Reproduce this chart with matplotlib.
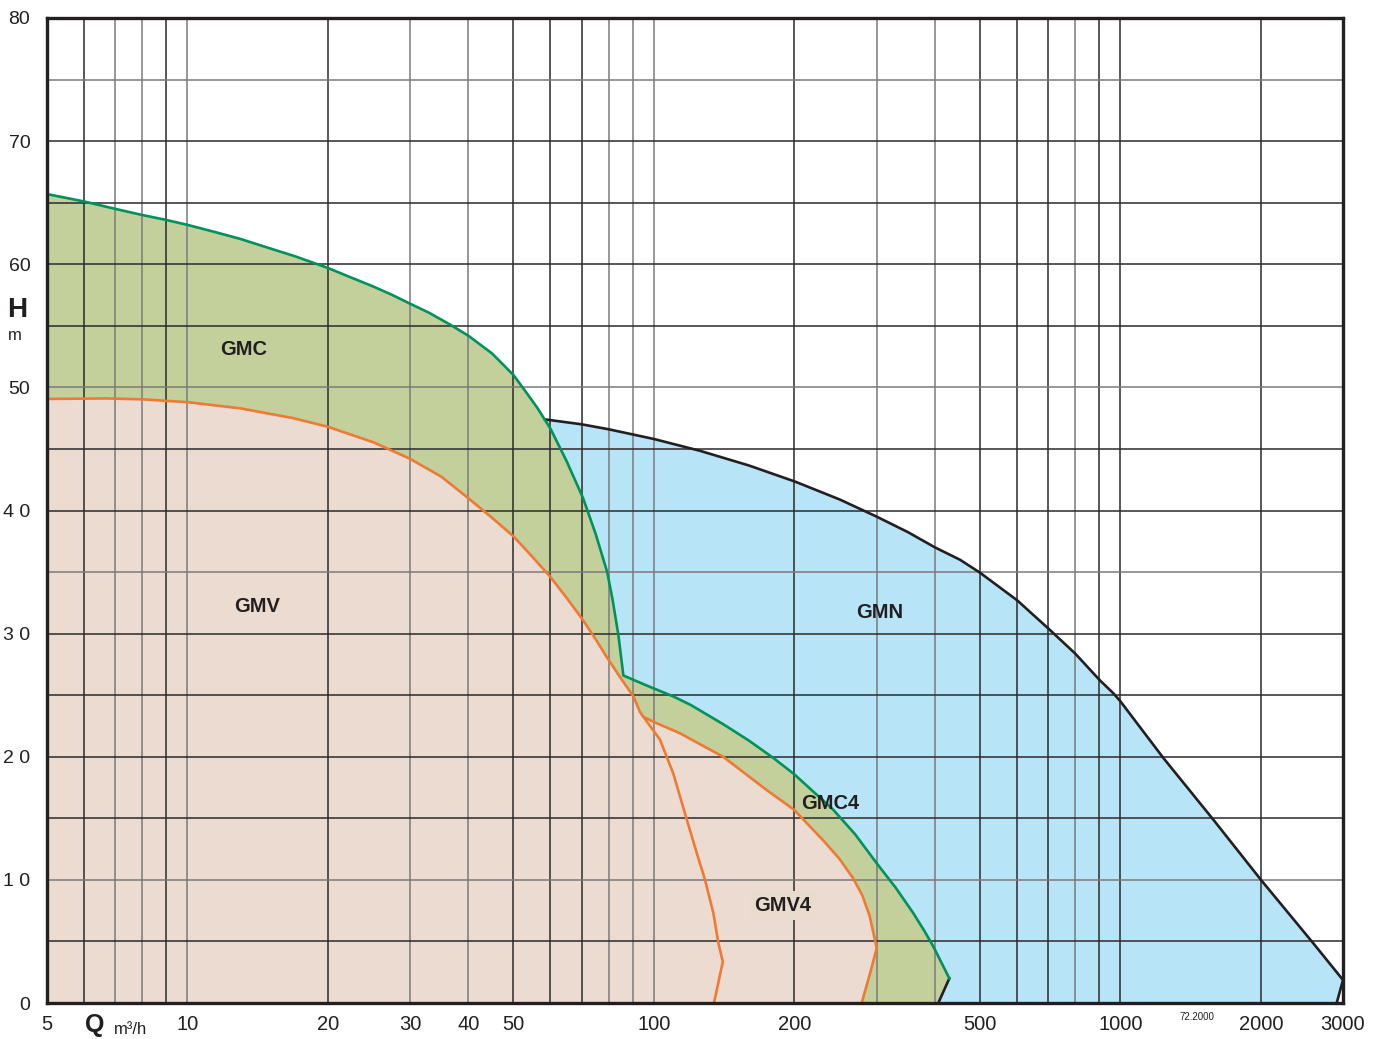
import matplotlib
matplotlib.use('Agg')
import matplotlib.pyplot as plt

# pump family envelopes (Q in m3/h, H in m)
gmc_q = [5, 6, 7, 8, 9, 10, 11.5, 13, 15, 17, 20, 22.5, 25, 27.5, 30, 33, 36.55, 40, 45, 50, 53, 56.1, 60, 65, 70.5, 75, 79.4, 81.5, 83.9, 86.0]
gmc_h = [65.7, 65.1, 64.5, 64.0, 63.6, 63.2, 62.6, 62.05, 61.3, 60.65, 59.7, 58.9, 58.2, 57.5, 56.8, 56.05, 55.1, 54.2, 52.75, 51.0, 49.7, 48.4, 46.65, 44.0, 41.0, 38.1, 35.0, 32.8, 29.9, 26.6]

gmc4_q = [86.0, 96.3, 110, 120, 140.7, 160, 180.3, 199.6, 242.3, 270, 300.3, 330, 359.7, 380, 397, 429.8]
gmc4_h = [26.6, 25.8, 24.9, 24.2, 22.65, 21.3, 19.9, 18.6, 15.7, 13.7, 11.35, 9.35, 7.3, 5.85, 4.6, 2.0]
gmc4_end_q = [429.8, 407]
gmc4_end_h = [2.0, 0]

gmv_q = [5, 6.71, 8, 10, 12.97, 16.86, 20, 25, 30, 35, 39.7, 45, 50, 55, 60, 65, 70.0, 75, 79.2, 85, 90.4, 93.3, 94.9]
gmv_h = [49.06, 49.1, 49.03, 48.8, 48.3, 47.5, 46.8, 45.55, 44.2, 42.75, 41.1, 39.4, 37.9, 36.2, 34.6, 32.9, 31.25, 29.55, 28.1, 26.35, 24.9, 23.65, 23.25]

gmv4_q = [94.9, 99.6, 113.8, 140.7, 174.4, 199.6, 230.7, 250, 267.6, 280, 290, 297.8, 300.3, 290.6, 278.8]
gmv4_h = [23.25, 22.85, 21.9, 20.0, 17.3, 15.7, 13.2, 11.7, 10.1, 8.7, 7.07, 5.1, 4.45, 2.4, 0]

gmv_tail_q = [94.9, 103, 110, 117.6, 123.5, 128.7, 134.1, 137.5, 140.5, 134.5]
gmv_tail_h = [23.25, 21.4, 18.65, 14.9, 12.2, 10.0, 7.3, 4.85, 3.35, 0]

gmn_q = [58.4, 70, 79.9, 100.2, 125.5, 160, 200.6, 250, 300.3, 350, 400.5, 453, 500, 601, 706, 799, 904, 966, 1000, 1236, 1581, 2001, 2591, 3000, 2908]
gmn_h = [47.4, 47.0, 46.6, 45.8, 44.85, 43.65, 42.35, 40.9, 39.5, 38.25, 37.0, 36.0, 34.95, 32.7, 30.3, 28.4, 26.2, 25.15, 24.5, 19.9, 14.9, 10.0, 4.85, 1.87, 0]

x_ticks = [5, 10, 20, 30, 40, 50, 100, 200, 500, 1000, 2000, 3000]
y_ticks = [0, 10, 20, 30, 40, 50, 60, 70, 80]
y_labels = ['0', '1 0', '2 0', '3 0', '4 0', '50', '60', '70', '80']

region_labels = ['GMC', 'GMV', 'GMN', 'GMC4', 'GMV4']
region_q = [13.2, 14.1, 305, 238.5, 189]
region_h = [53.1, 32.2, 31.75, 16.2, 7.9]

c_gmv = '#ECDBD0'
c_gmc = '#C3D09B'
c_gmn = '#B8E4F8'
c_green = '#00925C'
c_orange = '#EE7A33'
c_black = '#231F20'

fig = plt.figure(figsize=(13.86, 10.39), dpi=100)
ax = fig.add_axes([47 / 1386, 1 - 1003 / 1039, 1296 / 1386, 985 / 1039])
ax.set_xscale('log')
ax.set_xlim(5, 3000)
ax.set_ylim(0, 80)

# fills, back to front
ax.fill(gmn_q + [gmn_q[0]], gmn_h + [0], color=c_gmn, lw=0, zorder=1)
ax.fill(gmc_q + gmc4_q[1:] + [407, 5], gmc_h + gmc4_h[1:] + [0, 0], color=c_gmc, lw=0, zorder=1.1)
ax.fill(gmv_q + gmv4_q[1:] + [5], gmv_h + gmv4_h[1:] + [0], color=c_gmv, lw=0, zorder=1.2)

# grid
vgrid = [6, 7, 8, 9, 10, 20, 30, 40, 50, 60, 70, 80, 90, 100, 200, 300, 400, 500, 600, 700, 800, 900, 1000, 2000]
vgray = [7, 8, 10, 30, 40, 80, 90, 100, 300, 400, 800]
for v in vgrid:
    ax.axvline(v, color='#7a7a7a' if v in vgray else '#2a2a2a', lw=1.1, zorder=2)
for h in range(5, 80, 5):
    ax.axhline(h, color='#7a7a7a' if h in (75, 50, 35, 10) else '#2a2a2a', lw=1.1, zorder=2)

# curves
lw = 1.9
ax.plot(gmn_q, gmn_h, color=c_black, lw=lw, zorder=3)
ax.plot(gmc4_end_q, gmc4_end_h, color=c_black, lw=lw, zorder=3)
ax.plot(gmc_q + gmc4_q[1:], gmc_h + gmc4_h[1:], color=c_green, lw=lw, zorder=4)
ax.plot(gmv_q + gmv4_q[1:], gmv_h + gmv4_h[1:], color=c_orange, lw=lw, zorder=4)
ax.plot(gmv_tail_q, gmv_tail_h, color=c_orange, lw=lw, zorder=4)

for name, q, h in zip(region_labels, region_q, region_h):
    bbox = None
    if name == 'GMV4':
        bbox = dict(boxstyle='square,pad=0.25', fc='#E9DCCC', ec='none')
    ax.text(q, h, name, ha='center', va='center', fontsize=14.5, fontweight='bold',
            family=['Liberation Sans', 'DejaVu Sans'], color=c_black, zorder=5, bbox=bbox)

ax.set_xticks(x_ticks)
ax.set_xticklabels([str(v) for v in x_ticks], family=['Liberation Sans Narrow', 'Liberation Sans', 'DejaVu Sans'], fontsize=14.5, color=c_black)
ax.xaxis.set_minor_locator(matplotlib.ticker.NullLocator())
ax.set_yticks(y_ticks)
ax.set_yticklabels(y_labels, family=['Liberation Sans', 'DejaVu Sans'], fontsize=14, color=c_black)
ax.tick_params(axis='x', length=0, pad=9)
ax.tick_params(axis='y', length=0, pad=12)

for s in ax.spines.values():
    s.set_linewidth(2.4)
    s.set_color(c_black)
    s.set_zorder(6)

fig.text(95 / 1386, 1 - 1025 / 1039, 'Q', ha='center', va='center', fontsize=18, fontweight='bold',
         family=['Liberation Sans', 'DejaVu Sans'], color=c_black)
fig.text(114 / 1386, 1 - 1030 / 1039, 'm³/h', ha='left', va='center', fontsize=12,
         family=['Liberation Sans', 'DejaVu Sans'], color=c_black)
fig.text(17 / 1386, 1 - 310 / 1039, 'H', ha='center', va='center', fontsize=20, fontweight='bold',
         family=['Liberation Sans', 'DejaVu Sans'], color=c_black)
fig.text(15 / 1386, 1 - 335 / 1039, 'm', ha='center', va='center', fontsize=12,
         family=['Liberation Sans', 'DejaVu Sans'], color=c_black)
fig.text(1197 / 1386, 1 - 1017 / 1039, '72.2000', ha='center', va='center', fontsize=7,
         family=['Liberation Sans Narrow', 'Liberation Sans', 'DejaVu Sans'], color=c_black)

fig.savefig('out.png', dpi=100)
